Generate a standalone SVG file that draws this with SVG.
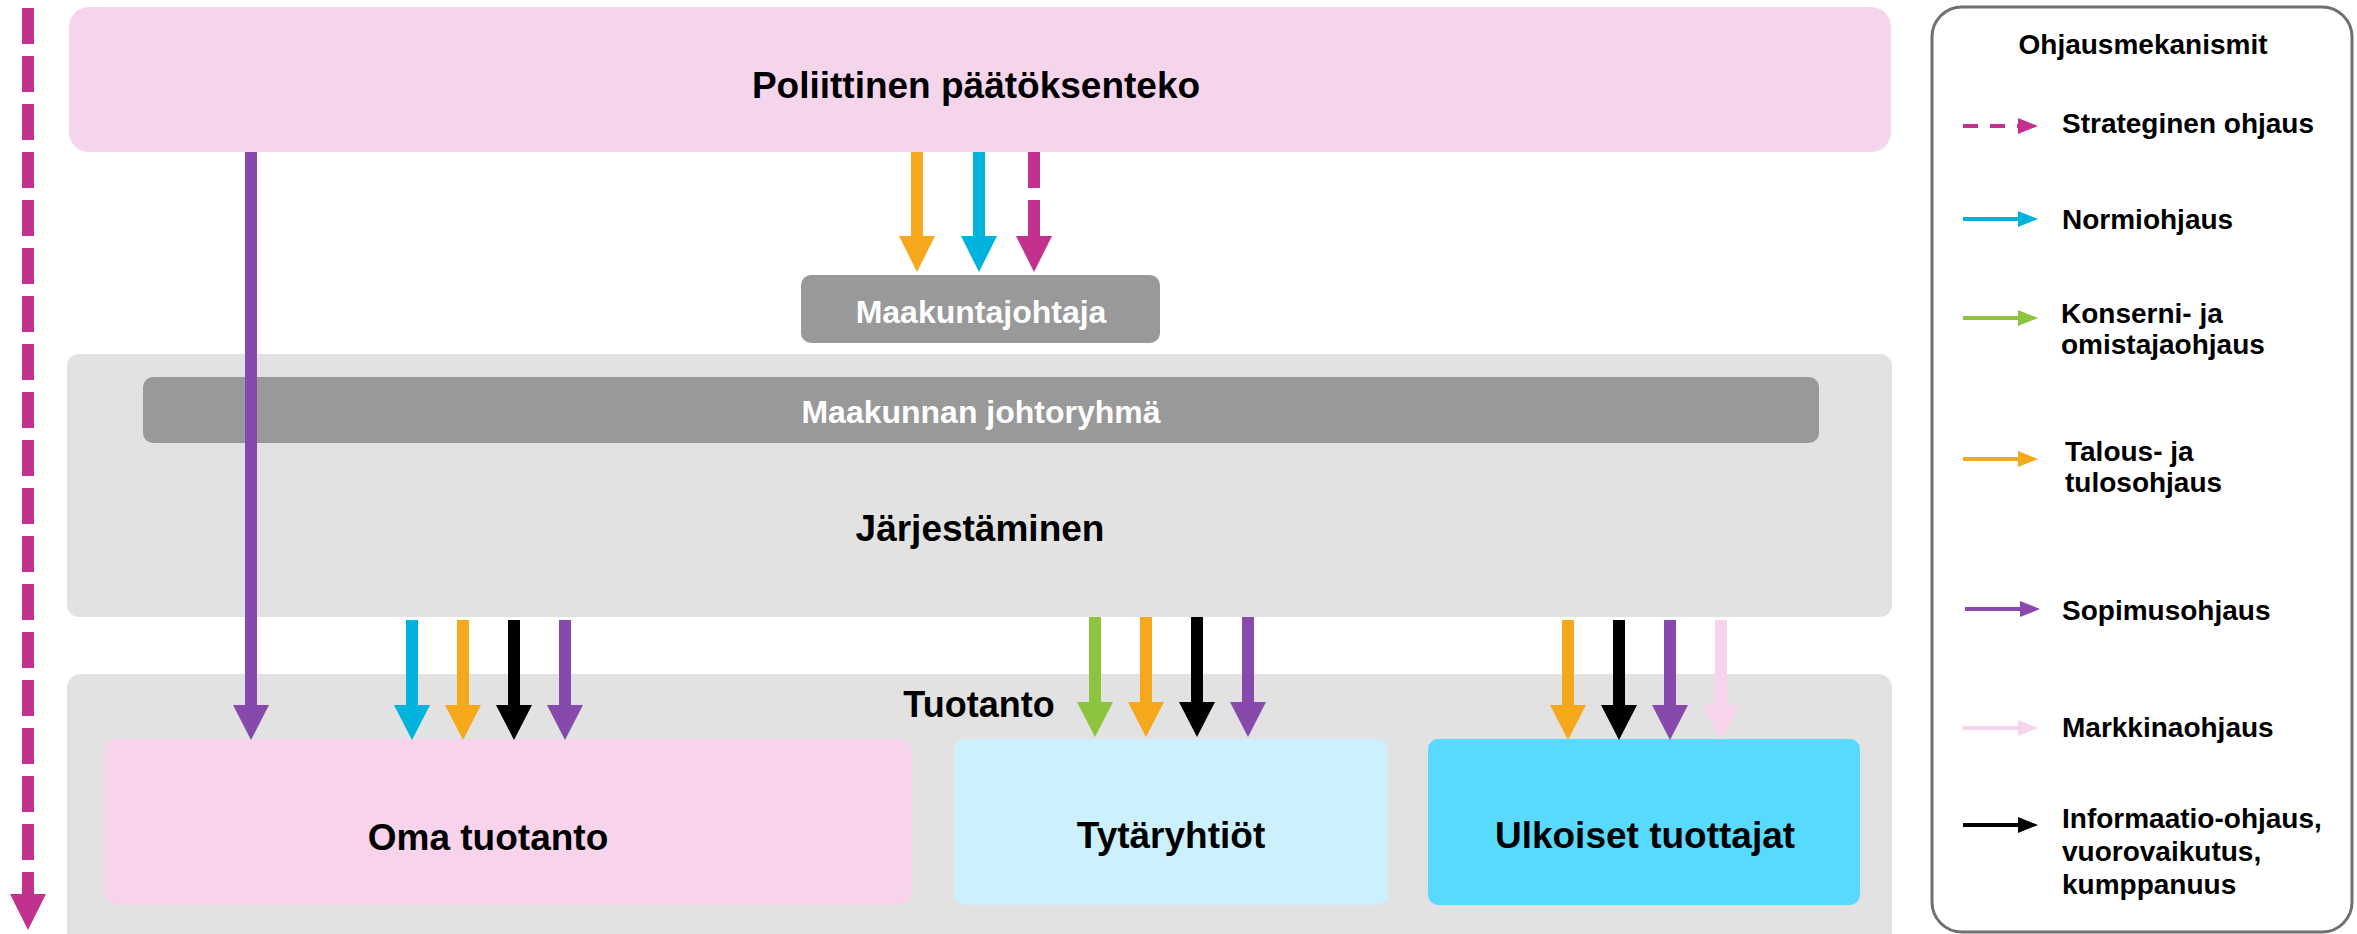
<svg xmlns="http://www.w3.org/2000/svg" width="2357" height="934" viewBox="0 0 2357 934">
<style>
text{font-family:"Liberation Sans",Arial,sans-serif;font-weight:bold;}
.lbl{font-size:37px;fill:#000;text-anchor:middle;}
.bar{font-size:32px;fill:#fff;text-anchor:middle;}
.leg{font-size:28px;fill:#000;}
.ln{stroke-width:12;fill:none;}
.lg{stroke-width:4;fill:none;}
.or{stroke:#F6A81C;} .orf{fill:#F6A81C;}
.cy{stroke:#00B3DC;} .cyf{fill:#00B3DC;}
.mg{stroke:#C3318F;} .mgf{fill:#C3318F;}
.pu{stroke:#8849AD;} .puf{fill:#8849AD;}
.bk{stroke:#000;} .bkf{fill:#000;}
.gr{stroke:#8DC43F;} .grf{fill:#8DC43F;}
.pk{stroke:#F7D3EC;} .pkf{fill:#F7D3EC;}
.dash{stroke-dasharray:36 12;}
</style>
<rect width="2357" height="934" fill="#fff"/>

<g id="jarjestaminen">
<rect x="67" y="354" width="1825" height="263" rx="12" fill="#E2E2E2"/>
<text class="lbl" x="980" y="541">Järjestäminen</text>
</g>
<g id="tuotanto">
<rect x="67" y="674" width="1825" height="275" rx="14" fill="#E2E2E2"/>
<text class="lbl" x="979" y="717" style="font-size:36px">Tuotanto</text>
</g>
<g id="poliittinen">
<rect x="69" y="7" width="1822" height="145" rx="20" fill="#F4D5EC"/>
<text class="lbl" x="976" y="98">Poliittinen päätöksenteko</text>
</g>
<g id="maakuntajohtaja">
<rect x="801" y="275" width="359" height="68" rx="10" fill="#999999"/>
<text class="bar" x="981" y="323">Maakuntajohtaja</text>
</g>
<g id="johtoryhma">
<rect x="143" y="377" width="1676" height="66" rx="10" fill="#999999"/>
<text class="bar" x="981" y="423">Maakunnan johtoryhmä</text>
</g>
<g id="oma">
<rect x="104" y="739" width="808" height="166" rx="14" fill="#F7D3EC"/>
<text class="lbl" x="488" y="850">Oma tuotanto</text>
</g>
<g id="tytar">
<rect x="954" y="739" width="434" height="166" rx="10" fill="#CCF1FC"/>
<text class="lbl" x="1171" y="848">Tytäryhtiöt</text>
</g>
<g id="ulkoiset">
<rect x="1428" y="739" width="432" height="166" rx="10" fill="#58DAFE"/>
<text class="lbl" x="1645" y="848">Ulkoiset tuottajat</text>
</g>

<g id="connectors">
<!-- left strategic dashed -->
<line class="ln mg dash" x1="28" y1="8" x2="28" y2="894"/>
<polygon class="mgf" points="10,894 46,894 28,930"/>
<!-- top to Maakuntajohtaja -->
<line class="ln or" x1="917" y1="152" x2="917" y2="237"/>
<polygon class="orf" points="899,236 935,236 917,272"/>
<line class="ln cy" x1="979" y1="152" x2="979" y2="237"/>
<polygon class="cyf" points="961,236 997,236 979,272"/>
<line class="ln mg dash" x1="1034" y1="152" x2="1034" y2="236"/>
<polygon class="mgf" points="1016,236 1052,236 1034,272"/>
<!-- long purple -->
<line class="ln pu" x1="251" y1="152" x2="251" y2="706"/>
<polygon class="puf" points="233,705 269,705 251,740"/>
<!-- Oma -->
<line class="ln cy" x1="412" y1="620" x2="412" y2="706"/>
<polygon class="cyf" points="394,705 430,705 412,740"/>
<line class="ln or" x1="463" y1="620" x2="463" y2="706"/>
<polygon class="orf" points="445,705 481,705 463,740"/>
<line class="ln bk" x1="514" y1="620" x2="514" y2="706"/>
<polygon class="bkf" points="496,705 532,705 514,740"/>
<line class="ln pu" x1="565" y1="620" x2="565" y2="706"/>
<polygon class="puf" points="547,705 583,705 565,740"/>
<!-- Tytar -->
<line class="ln gr" x1="1095" y1="617" x2="1095" y2="703"/>
<polygon class="grf" points="1077,702 1113,702 1095,737"/>
<line class="ln or" x1="1146" y1="617" x2="1146" y2="703"/>
<polygon class="orf" points="1128,702 1164,702 1146,737"/>
<line class="ln bk" x1="1197" y1="617" x2="1197" y2="703"/>
<polygon class="bkf" points="1179,702 1215,702 1197,737"/>
<line class="ln pu" x1="1248" y1="617" x2="1248" y2="703"/>
<polygon class="puf" points="1230,702 1266,702 1248,737"/>
<!-- Ulkoiset -->
<line class="ln or" x1="1568" y1="620" x2="1568" y2="706"/>
<polygon class="orf" points="1550,705 1586,705 1568,740"/>
<line class="ln bk" x1="1619" y1="620" x2="1619" y2="706"/>
<polygon class="bkf" points="1601,705 1637,705 1619,740"/>
<line class="ln pu" x1="1670" y1="620" x2="1670" y2="706"/>
<polygon class="puf" points="1652,705 1688,705 1670,740"/>
<line class="ln pk" x1="1721" y1="620" x2="1721" y2="706"/>
<polygon class="pkf" points="1703,705 1739,705 1721,740"/>
</g>

<g id="legend">
<rect x="1932" y="7" width="420" height="925" rx="30" fill="#fff" stroke="#707070" stroke-width="3"/>
<text class="leg" x="2143" y="54" text-anchor="middle">Ohjausmekanismit</text>
<line class="lg mg" x1="1963" y1="126" x2="2020" y2="126" stroke-dasharray="15 12"/>
<polygon class="mgf" points="2018,118 2038,126 2018,134"/>
<text class="leg" x="2062" y="133">Strateginen ohjaus</text>
<line class="lg cy" x1="1963" y1="219" x2="2020" y2="219"/>
<polygon class="cyf" points="2018,211 2038,219 2018,227"/>
<text class="leg" x="2062" y="229">Normiohjaus</text>
<line class="lg gr" x1="1963" y1="318" x2="2020" y2="318"/>
<polygon class="grf" points="2018,310 2038,318 2018,326"/>
<text class="leg" x="2061" y="323">Konserni- ja</text>
<text class="leg" x="2061" y="354">omistajaohjaus</text>
<line class="lg or" x1="1963" y1="459" x2="2020" y2="459"/>
<polygon class="orf" points="2018,451 2038,459 2018,467"/>
<text class="leg" x="2065" y="461">Talous- ja</text>
<text class="leg" x="2065" y="492">tulosohjaus</text>
<line class="lg pu" x1="1965" y1="609" x2="2022" y2="609"/>
<polygon class="puf" points="2020,601 2040,609 2020,617"/>
<text class="leg" x="2062" y="620">Sopimusohjaus</text>
<line class="lg pk" x1="1963" y1="728" x2="2020" y2="728"/>
<polygon class="pkf" points="2018,720 2038,728 2018,736"/>
<text class="leg" x="2062" y="737">Markkinaohjaus</text>
<line class="lg bk" x1="1963" y1="825" x2="2020" y2="825"/>
<polygon class="bkf" points="2018,817 2038,825 2018,833"/>
<text class="leg" x="2062" y="828">Informaatio-ohjaus,</text>
<text class="leg" x="2062" y="861">vuorovaikutus,</text>
<text class="leg" x="2062" y="894">kumppanuus</text>
</g>
</svg>
